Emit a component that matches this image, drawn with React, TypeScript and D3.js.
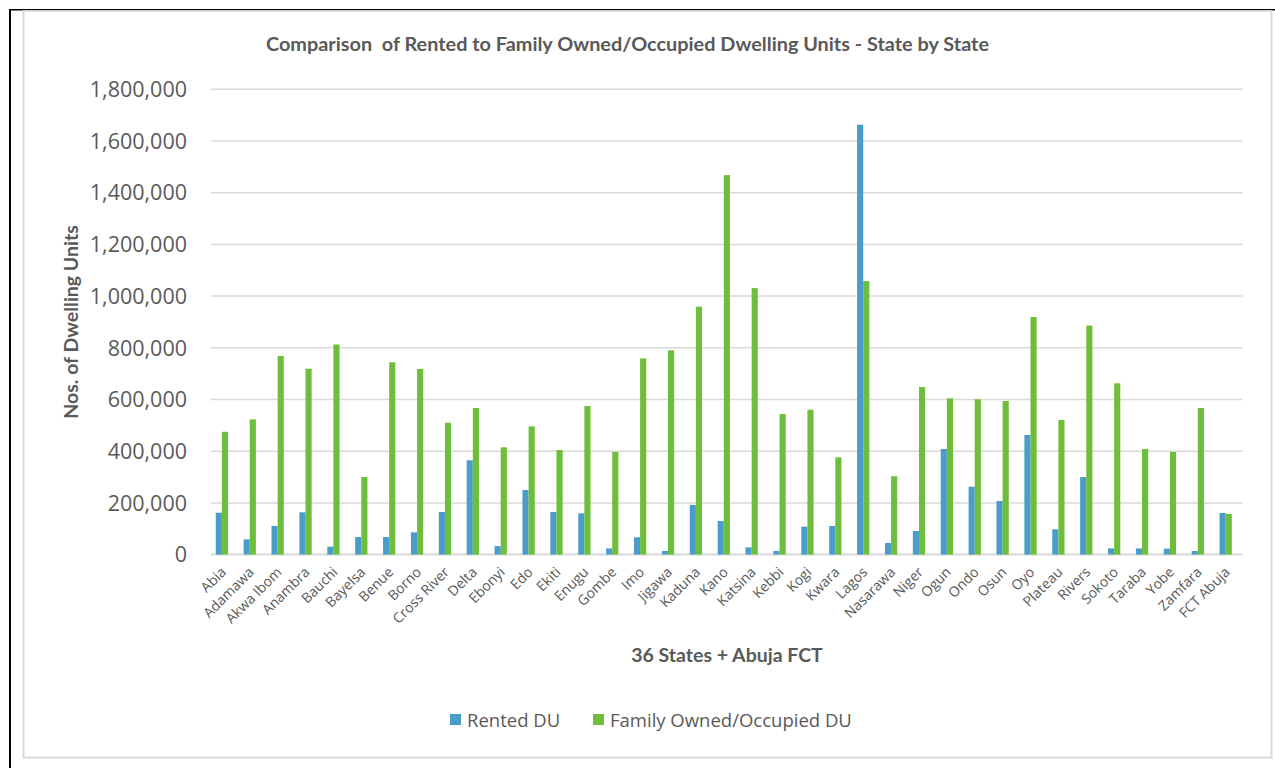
import React from "react";
import * as d3 from "d3";

// Dwelling units per state: rented vs family owned/occupied
const states = [
  "Abia", "Adamawa", "Akwa Ibom", "Anambra", "Bauchi", "Bayelsa", "Benue", "Borno",
  "Cross River", "Delta", "Ebonyi", "Edo", "Ekiti", "Enugu", "Gombe", "Imo", "Jigawa",
  "Kaduna", "Kano", "Katsina", "Kebbi", "Kogi", "Kwara", "Lagos", "Nasarawa", "Niger",
  "Ogun", "Ondo", "Osun", "Oyo", "Plateau", "Rivers", "Sokoto", "Taraba", "Yobe",
  "Zamfara", "FCT Abuja",
];

const rentedDU = [
  162000, 59000, 110600, 163600, 30600, 68000, 68000, 86000,
  164800, 364700, 33000, 250000, 164800, 159700, 24000, 66900, 14000,
  191900, 130000, 28000, 14000, 108000, 110600, 1663000, 44900, 91300,
  408500, 262600, 207300, 462600, 97900, 300000, 24000, 24000, 23000,
  14000, 160900,
];

const ownedDU = [
  475000, 523000, 768000, 719000, 813000, 300000, 744000, 718000,
  510000, 567000, 415000, 496000, 404600, 574800, 396900, 759000, 790000,
  959000, 1468000, 1031000, 543800, 560500, 376000, 1058000, 302900, 648000,
  604600, 600700, 594100, 919000, 520600, 886000, 662600, 408500, 397000,
  567000, 157000,
];

const yTicks = [0, 200000, 400000, 600000, 800000, 1000000, 1200000, 1400000, 1600000, 1800000];

const seriesNames = ["Rented DU", "Family Owned/Occupied DU"];
const seriesColors = ["#4A9DCB", "#6DBE3B"];

const W = 1275;
const H = 768;
const plot = { left: 211, right: 1242.7, top: 89.3, bottom: 554.6 };

const textColor = "#595959";
const gridColor = "#D9D9D9";
const bodyFont = "'Open Sans', sans-serif";
const headFont = "Lato, 'Open Sans', sans-serif";

export default function App() {
  const x0 = d3.scaleBand<string>().domain(states).range([plot.left, plot.right]).padding(0);
  const y = d3.scaleLinear().domain([0, 1800000]).range([plot.bottom, plot.top]);
  const catW = x0.bandwidth();
  const barW = catW * 0.22;
  const groupStart = catW / 2 - 1.5 * barW;
  const x1 = d3.scaleBand<number>().domain([0, 1]).range([0, 2 * barW]).padding(0);
  const series = [rentedDU, ownedDU];
  const fmt = d3.format(",");

  return (
    <div style={{ position: "absolute", left: 0, top: 0, width: W, height: H, background: "#fff" }}>
      <svg width={W} height={H} style={{ display: "block" }}>
        <rect x={0} y={0} width={W} height={H} fill="#fff" />
        {/* outer frame */}
        <line x1={9} x2={W} y1={9.75} y2={9.75} stroke="#000" strokeWidth={1.5} />
        <line x1={10} x2={10} y1={9} y2={H} stroke="#000" strokeWidth={2} />
        <rect x={23.5} y={11} width={1248} height={746.5} fill="none" stroke={gridColor} strokeWidth={2} />

        {/* title */}
        <text
          x={266}
          y={51}
          textLength={723}
          lengthAdjust="spacingAndGlyphs"
          fontFamily={headFont}
          fontWeight={700}
          fontSize={18.5}
          fill={textColor}
          style={{ whiteSpace: "pre" }}
        >
          {"Comparison  of Rented to Family Owned/Occupied Dwelling Units - State by State"}
        </text>

        {/* gridlines and y ticks */}
        {yTicks.map((t) => (
          <g key={t}>
            <line x1={plot.left} x2={plot.right} y1={y(t)} y2={y(t)} stroke={gridColor} strokeWidth={t === 0 ? 2 : 1.5} />
            <text x={187} y={y(t)} dy="0.36em" textAnchor="end" fontFamily={bodyFont} fontSize={21.5} fill={textColor}>
              {fmt(t)}
            </text>
          </g>
        ))}

        {/* bars */}
        {series.map((vals, si) => (
          <g key={si} fill={seriesColors[si]}>
            {states.map((s, i) => (
              <rect
                key={s}
                x={(x0(s) as number) + groupStart + (x1(si) as number)}
                y={y(vals[i])}
                width={x1.bandwidth()}
                height={y(0) - y(vals[i])}
              />
            ))}
          </g>
        ))}

        {/* x category labels */}
        {states.map((s) => {
          const cx = (x0(s) as number) + catW / 2 + 2;
          const cy = 573;
          return (
            <text
              key={s}
              transform={`translate(${cx},${cy}) rotate(-45)`}
              textAnchor="end"
              fontFamily={bodyFont}
              fontSize={14}
              fill={textColor}
            >
              {s}
            </text>
          );
        })}

        {/* axis titles */}
        <text x={727} y={662} textAnchor="middle" fontFamily={headFont} fontWeight={700} fontSize={19.5} fill={textColor}>
          36 States + Abuja FCT
        </text>
        <text
          transform={`translate(78,${(plot.top + plot.bottom) / 2}) rotate(-90)`}
          textAnchor="middle"
          fontFamily={headFont}
          fontWeight={700}
          fontSize={19.5}
          fill={textColor}
        >
          Nos. of Dwelling Units
        </text>

        {/* legend */}
        <g fontFamily={bodyFont} fontSize={18.5} fill={textColor}>
          <rect x={450} y={714} width={11} height={11} fill={seriesColors[0]} />
          <text x={467} y={727}>{seriesNames[0]}</text>
          <rect x={593} y={714} width={11} height={11} fill={seriesColors[1]} />
          <text x={610} y={727}>{seriesNames[1]}</text>
        </g>
      </svg>
    </div>
  );
}
